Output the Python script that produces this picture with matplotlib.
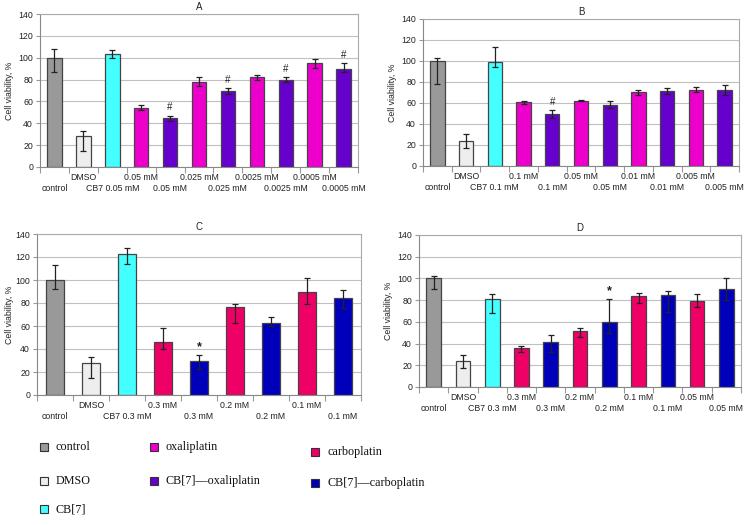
import numpy as np
import matplotlib
matplotlib.use("Agg")
import matplotlib.pyplot as plt
from matplotlib.patches import Rectangle

# colours for each treatment group
c_control = '#999999'
c_dmso = '#eeeeee'
c_cb7 = '#44ffff'
c_oxa = '#ee00cc'
c_cb7_oxa = '#6600cc'
c_carbo = '#ee0066'
c_cb7_carbo = '#0000bb'

# ---- panel A ----
labels_a = ['control', 'DMSO', 'CB7 0.05 mM', '0.05 mM', '0.05 mM', '0.025 mM', '0.025 mM',
            '0.0025 mM', '0.0025 mM', '0.0005 mM', '0.0005 mM']
values_a = [100, 28, 103, 54, 45, 78, 70, 82, 80, 95, 90]
low_a = [87, 15, 100, 52, 42, 74, 67, 80, 78, 91, 87]
high_a = [108, 33, 107, 57, 47, 82, 72, 84, 82, 99, 95]
marks_a = ['', '', '', '', '#', '', '#', '', '#', '', '#']

# ---- panel B ----
labels_b = ['control', 'DMSO', 'CB7 0.1 mM', '0.1 mM', '0.1 mM', '0.05 mM', '0.05 mM',
            '0.01 mM', '0.01 mM', '0.005 mM', '0.005 mM']
values_b = [100, 24, 99.5, 60.5, 49.5, 62, 58, 70, 71.5, 72, 72.5]
low_b = [78, 17, 94, 59, 46, 61.5, 55, 68, 69, 70, 68]
high_b = [103, 30, 113, 62, 53, 62.5, 62, 72, 74, 75, 77]
marks_b = ['', '', '', '', '#', '', '', '', '', '', '']

# ---- panel C ----
labels_c = ['control', 'DMSO', 'CB7 0.3 mM', '0.3 mM', '0.3 mM', '0.2 mM', '0.2 mM',
            '0.1 mM', '0.1 mM']
values_c = [100, 28, 122.5, 46, 30, 76.5, 63, 90, 84.5]
low_c = [92, 15, 114, 40, 23, 63, 60, 79, 76]
high_c = [113, 33, 128, 58, 35, 79, 68, 102, 91]
marks_c = ['', '', '', '', '*', '', '', '', '']

# ---- panel D ----
labels_d = ['control', 'DMSO', 'CB7 0.3 mM', '0.3 mM', '0.3 mM', '0.2 mM', '0.2 mM',
            '0.1 mM', '0.1 mM', '0.05 mM', '0.05 mM']
values_d = [100, 24, 81, 36, 41.5, 51.5, 60, 83.5, 84.5, 79, 90]
low_d = [90, 17.5, 68, 32, 32, 46, 49.5, 77, 69, 73.5, 80]
high_d = [102.5, 29.5, 86, 38, 48, 54, 81.5, 87, 88.5, 86, 100]
marks_d = ['', '', '', '', '', '', '*', '', '', '', '']

colors_oxa = [c_control, c_dmso, c_cb7] + [c_oxa, c_cb7_oxa] * 4
colors_c = [c_control, c_dmso, c_cb7] + [c_carbo, c_cb7_carbo] * 3
colors_d = [c_control, c_dmso, c_cb7] + [c_carbo, c_cb7_carbo] * 4

legend_items = [('control', c_control), ('DMSO', c_dmso), ('CB[7]', c_cb7),
                ('oxaliplatin', c_oxa), ('CB[7]\u2014oxaliplatin', c_cb7_oxa),
                ('carboplatin', c_carbo), ('CB[7]\u2014carboplatin', c_cb7_carbo)]

plt.rcParams['font.family'] = ['Liberation Sans', 'DejaVu Sans']


def draw_panel(ax, title, labels, values, low, high, colors, marks):
    x = np.arange(len(values))
    vals = np.array(values, dtype=float)
    yerr = [vals - np.array(low), np.array(high) - vals]
    ax.set_axisbelow(True)
    ax.yaxis.grid(True, color='#c0c0c0', lw=0.8)
    ax.bar(x, vals, width=0.5, color=colors, edgecolor='#444444', linewidth=0.9, zorder=2)
    ax.errorbar(x, vals, yerr=yerr, fmt='none', ecolor='#222222', elinewidth=0.9,
                capsize=2.5, capthick=0.9, zorder=3)
    for xi, hi, m in zip(x, high, marks):
        if m == '#':
            ax.text(xi, hi + 3, m, ha='center', va='bottom', fontsize=7, color='#222222')
        elif m:
            ax.text(xi, hi + 1, m, ha='center', va='bottom', fontsize=9, fontweight='bold',
                    color='#222222')
    ax.set_xlim(-0.5, len(values) - 0.5)
    ax.set_ylim(0, 140)
    ax.set_yticks(range(0, 141, 20))
    ax.set_xticks([])
    # staggered category labels: even categories on the lower row
    for xi, lab in zip(x, labels):
        off = -12.5 if xi % 2 == 0 else -4
        ax.annotate(lab, xy=(xi, 0), xycoords=('data', 'axes fraction'), xytext=(0, off),
                    textcoords='offset points', ha='center', va='top', fontsize=6.3,
                    color='#222222')
    ax.set_xticks(np.arange(-0.5, len(values), 1.0), minor=True)
    ax.tick_params(axis='x', which='minor', length=4, color='#999999', width=0.8)
    ax.tick_params(axis='y', labelsize=6.3, length=3, color='#999999', width=0.8,
                   labelcolor='#222222', pad=2)
    for s in ax.spines.values():
        s.set_color('#aaaaaa')
        s.set_linewidth(0.8)
    ax.spines['left'].set_color('#888888')
    ax.spines['bottom'].set_color('#888888')
    ax.set_ylabel('Cell viability, %', fontsize=6.3, color='#222222', labelpad=3)
    ax.set_title(title, fontsize=7, color='#222222', pad=3)


W, H = 754, 525
fig = plt.figure(figsize=(W / 100, H / 100), dpi=100)

ax_a = fig.add_axes([40 / W, 1 - 167 / H, 318 / W, 153 / H])
ax_b = fig.add_axes([423 / W, 1 - 166 / H, 316 / W, 147 / H])
ax_c = fig.add_axes([37 / W, 1 - 395 / H, 324 / W, 161 / H])
ax_d = fig.add_axes([419 / W, 1 - 387 / H, 322 / W, 152 / H])

draw_panel(ax_a, 'A', labels_a, values_a, low_a, high_a, colors_oxa, marks_a)
draw_panel(ax_b, 'B', labels_b, values_b, low_b, high_b, colors_oxa, marks_b)
draw_panel(ax_c, 'C', labels_c, values_c, low_c, high_c, colors_c, marks_c)
draw_panel(ax_d, 'D', labels_d, values_d, low_d, high_d, colors_d, marks_d)
ax_c.yaxis.labelpad = 1

# legend drawn by hand in pixel positions
legend_pos = [(40, 447), (40, 481), (40, 509), (150, 447), (150, 481), (311, 452), (311, 483)]
for (name, col), (px, py) in zip(legend_items, legend_pos):
    fig.patches.append(Rectangle((px / W, 1 - (py + 4) / H), 8 / W, 8 / H, transform=fig.transFigure,
                                 facecolor=col, edgecolor='#333333', linewidth=0.8))
    fig.text((px + 16) / W, 1 - py / H, name, fontsize=8.7, va='center', ha='left',
             family=['Liberation Serif', 'DejaVu Serif'], color='#111111')

fig.savefig('out.png', dpi=100)
